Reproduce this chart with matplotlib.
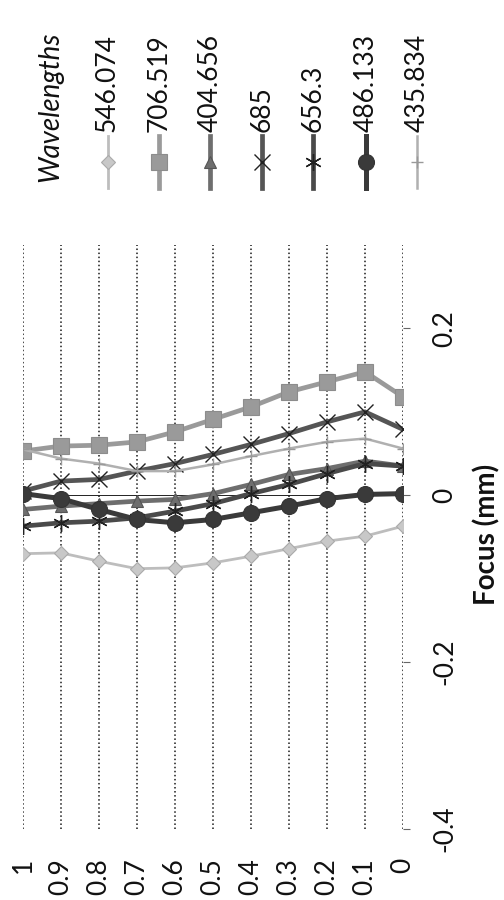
import matplotlib
matplotlib.use('Agg')
import matplotlib.pyplot as plt
from matplotlib.lines import Line2D

plt.rcParams['font.family'] = ['Lato', 'DejaVu Sans']

# ---------------- data ----------------
field = [0.0, 0.1, 0.2, 0.3, 0.4, 0.5, 0.6, 0.7, 0.8, 0.9, 1.0]

wavelengths = ['546.074', '706.519', '404.656', '685', '656.3', '486.133', '435.834']

focus_546_074 = [-0.037, -0.049, -0.055, -0.064, -0.073, -0.081, -0.087, -0.088, -0.079, -0.069, -0.070]
focus_706_519 = [0.118, 0.148, 0.136, 0.124, 0.106, 0.091, 0.076, 0.064, 0.060, 0.059, 0.053]
focus_404_656 = [0.035, 0.041, 0.032, 0.025, 0.013, 0.002, -0.005, -0.007, -0.010, -0.013, -0.017]
focus_685 = [0.079, 0.100, 0.088, 0.074, 0.061, 0.049, 0.038, 0.029, 0.019, 0.017, 0.005]
focus_656_3 = [0.035, 0.038, 0.026, 0.013, 0.002, -0.010, -0.019, -0.027, -0.031, -0.033, -0.037]
focus_486_133 = [0.002, 0.001, -0.004, -0.013, -0.021, -0.029, -0.033, -0.029, -0.017, -0.004, 0.002]
focus_435_834 = [0.056, 0.068, 0.064, 0.056, 0.047, 0.037, 0.029, 0.029, 0.038, 0.044, 0.055]

series = [focus_546_074, focus_706_519, focus_404_656, focus_685,
          focus_656_3, focus_486_133, focus_435_834]

value_ticks = [0.0, 0.1, 0.2, 0.3, 0.4, 0.5, 0.6, 0.7, 0.8, 0.9, 1.0]
value_tick_labels = ['0', '0.1', '0.2', '0.3', '0.4', '0.5', '0.6', '0.7', '0.8', '0.9', '1']
focus_ticks = [-0.4, -0.2, 0.0, 0.2]
focus_tick_labels = ['-0.4', '-0.2', '0', '0.2']
axis_title = 'Focus (mm)'
legend_title = 'Wavelengths'

# ---------------- styles ----------------
styles = [
    dict(color='#bdbdbd', lw=2.0, marker='D', ms=7.5, mec='#aaaaaa', mfc='#c8c8c8', mew=0.8),
    dict(color='#9a9a9a', lw=3.4, marker='s', ms=11, mec='#8c8c8c', mfc='#9a9a9a', mew=0.8),
    dict(color='#6e6e6e', lw=3.4, marker='^', ms=8, mec='#555555', mfc='#6e6e6e', mew=0.8),
    dict(color='#555555', lw=3.4, marker='x', ms=11, mec='#222222', mew=1.0),
    dict(color='#4a4a4a', lw=3.4, marker=(6, 2, 0), ms=12, mec='#222222', mew=1.0),
    dict(color='#3a3a3a', lw=3.6, marker='o', ms=11.5, mec='#333333', mfc='#3a3a3a', mew=0.8),
    dict(color='#b0b0b0', lw=1.8, marker='+', ms=9, mec='#999999', mew=1.0),
]

W, H = 504, 900
fig = plt.figure(figsize=(W / 100, H / 100), dpi=100)
ax = fig.add_axes([23 / W, 1 - 829 / H, 380 / W, 584 / H])

for vals, st in zip(series, styles):
    ax.plot(field, vals, **st, zorder=3)

ax.axhline(0, color='#222222', lw=0.7, zorder=2)

ax.set_xlim(1.0, 0.0)
ax.set_ylim(-0.4, 0.3)

ax.set_xticks(value_ticks)
ax.set_xticklabels(value_tick_labels)
ax.grid(axis='x', ls=':', color='#1a1a1a', lw=1.1, zorder=1)
ax.grid(axis='y', visible=False)
ax.tick_params(axis='x', length=0, pad=21, labelrotation=90, labelsize=19, labelcolor='#111111')

ax.yaxis.tick_right()
ax.set_yticks(focus_ticks)
ax.set_yticklabels(focus_tick_labels)
ax.tick_params(axis='y', direction='out', length=5, width=0.8, color='#666666',
               pad=16, labelrotation=90, labelsize=19, labelcolor='#111111')
for lbl in ax.get_yticklabels():
    lbl.set_va('center')

for sp in ax.spines.values():
    sp.set_visible(False)

fig.text(487 / W, 1 - 534 / H, axis_title, rotation=90, ha='center', va='center',
         fontsize=20, fontweight='bold', color='#111111')

# ---------------- legend (rotated) ----------------
fig.text(50 / W, 1 - 182 / H, legend_title, rotation=90, ha='center', va='bottom',
         fontsize=20, fontstyle='italic', color='#111111')
leg_x = [107.5, 159, 210, 262, 313, 366, 417]
for name, st, x in zip(wavelengths, styles, leg_x):
    fx = x / W
    line_kw = {k: v for k, v in st.items() if k in ('color', 'lw')}
    fig.add_artist(Line2D([fx, fx], [1 - 188 / H, 1 - 136 / H], transform=fig.transFigure, **line_kw))
    mk_kw = {k: v for k, v in st.items() if k in ('marker', 'ms', 'mec', 'mfc', 'mew')}
    fig.add_artist(Line2D([fx], [1 - 162 / H], transform=fig.transFigure, ls='none', **mk_kw))
    fig.text(fx, 1 - 132 / H, name, rotation=90, ha='center', va='bottom',
             fontsize=19, color='#111111')

fig.savefig('out.png', dpi=100)
